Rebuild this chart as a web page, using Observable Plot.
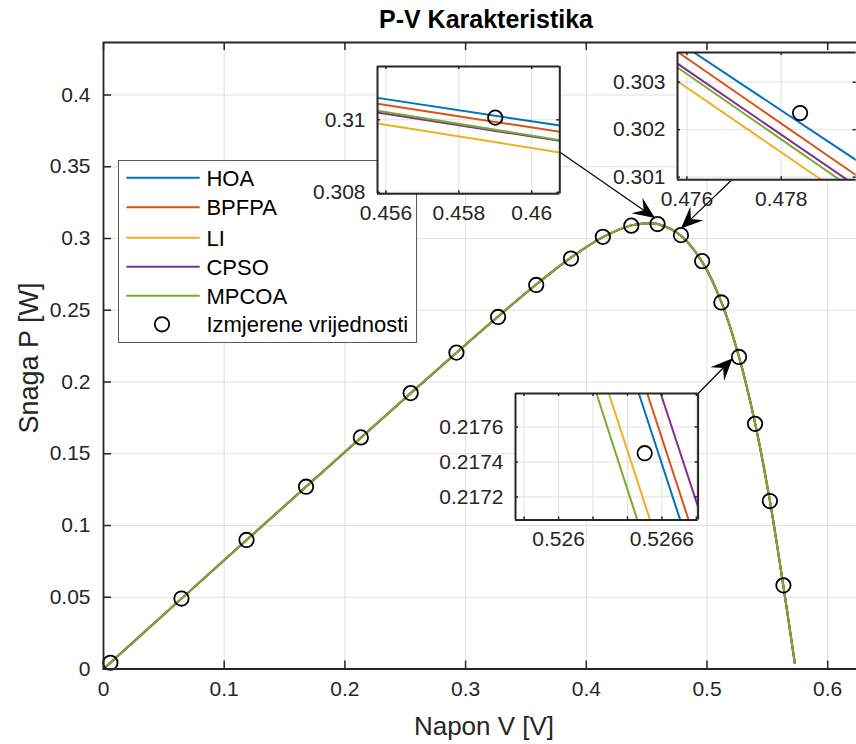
<!DOCTYPE html>
<html><head><meta charset="utf-8">
<script src="https://cdn.jsdelivr.net/npm/d3@7"></script>
<script src="https://cdn.jsdelivr.net/npm/@observablehq/plot@0.6"></script>
<style>
html,body{margin:0;padding:0;background:#fff;overflow:hidden;}
#fig{position:relative;width:856px;height:744px;overflow:hidden;font-family:"Liberation Sans",Arial,sans-serif;color:#262626;}
.abs{position:absolute;white-space:nowrap;line-height:1;}
</style></head><body><div id="fig"></div>
<script>
// ---------- data ----------
const seriesNames = ["HOA", "BPFPA", "LI", "CPSO", "MPCOA"];
const seriesColors = ["#0072BD", "#D95319", "#EDB120", "#7E2F8E", "#77AC30"];
const measLabel = "Izmjerene vrijednosti";

// measured points (circles)
const measV = [0.0057, 0.0646, 0.1185, 0.1678, 0.2132, 0.2545, 0.2924, 0.3269, 0.3585, 0.3873,
               0.4137, 0.4373, 0.4590, 0.4784, 0.4960, 0.5119, 0.5265, 0.5398, 0.5521, 0.5633];
const measP = [0.00434, 0.04910, 0.08994, 0.12703, 0.16139, 0.19228, 0.22047, 0.24534, 0.26762, 0.28602,
               0.30117, 0.30895, 0.31006, 0.30235, 0.28421, 0.25544, 0.21745, 0.17085, 0.11705, 0.05830];

// model curves on the main axes (all five overlap at this scale)
const curveV = [0, 0.0057, 0.0646, 0.1185, 0.1678, 0.2132, 0.2545, 0.2924, 0.3269, 0.3585, 0.3873,
                0.4137, 0.4373, 0.4480, 0.4590, 0.4784, 0.4960, 0.5119, 0.5265, 0.5398, 0.5521, 0.5633, 0.5727];
const curveP = [0, 0.00433, 0.04904, 0.08983, 0.12704, 0.16121, 0.19217, 0.22037, 0.24563, 0.26793, 0.28665,
                0.30092, 0.30916, 0.31050, 0.31005, 0.30193, 0.28370, 0.25572, 0.21760, 0.17139, 0.11713, 0.05760, 0.0042];

// inset 1 (near 0.458 V)
const in1V = [0.45577, 0.46077];
const in1P = {
  HOA:   [0.310605, 0.309843],
  BPFPA: [0.310440, 0.309670],
  LI:    [0.309900, 0.309100],
  CPSO:  [0.310200, 0.309420],
  MPCOA: [0.310248, 0.309440]
};
// inset 2 (near 0.478 V): each series as two read points
const in2V = {
  HOA:   [0.47615, 0.47959],
  BPFPA: [0.47582, 0.47959],
  LI:    [0.47580, 0.47885],
  CPSO:  [0.47580, 0.47940],
  MPCOA: [0.47580, 0.47924]
};
const in2P = {
  HOA:   [0.303625, 0.30136],
  BPFPA: [0.303625, 0.30104],
  LI:    [0.30302, 0.300945],
  CPSO:  [0.30339, 0.300945],
  MPCOA: [0.30331, 0.300945]
};
// inset 3 (near 0.5265 V)
const in3V = {
  HOA:   [0.526466, 0.526706],
  BPFPA: [0.526515, 0.526755],
  LI:    [0.526292, 0.526531],
  CPSO:  [0.526593, 0.526810],
  MPCOA: [0.526220, 0.526457]
};
const in3P = {
  HOA:   [0.217791, 0.217069],
  BPFPA: [0.217791, 0.217069],
  LI:    [0.217791, 0.217069],
  CPSO:  [0.217791, 0.217143],
  MPCOA: [0.217791, 0.217069]
};

// ticks
const xTicks = [0, 0.1, 0.2, 0.3, 0.4, 0.5, 0.6];
const xTickLabels = ["0", "0.1", "0.2", "0.3", "0.4", "0.5", "0.6"];
const yTicks = [0, 0.05, 0.1, 0.15, 0.2, 0.25, 0.3, 0.35, 0.4];
const yTickLabels = ["0", "0.05", "0.1", "0.15", "0.2", "0.25", "0.3", "0.35", "0.4"];
const in1XTicks = [0.456, 0.458, 0.46], in1XLabels = ["0.456", "0.458", "0.46"];
const in1YTicks = [0.308, 0.31], in1YLabels = ["0.308", "0.31"];
const in2XTicks = [0.476, 0.478], in2XLabels = ["0.476", "0.478"];
const in2YTicks = [0.301, 0.302, 0.303], in2YLabels = ["0.301", "0.302", "0.303"];
const in3XTicks = [0.5258, 0.526, 0.5262, 0.5264, 0.5266, 0.5268], in3XLabels = ["", "0.526", "", "", "0.5266", ""];
const in3YTicks = [0.2172, 0.2174, 0.2176], in3YLabels = ["0.2172", "0.2174", "0.2176"];

// annotation arrows (main-axes coordinates: start -> tip)
const arrowFromV = [0.37804, 0.52088, 0.49188];
const arrowFromP = [0.36014, 0.34042, 0.19059];
const arrowToV   = [0.45733, 0.47888, 0.52171];
const arrowToP   = [0.31394, 0.30662, 0.21617];

const titleText = "P-V Karakteristika";
const xLabelText = "Napon V [V]";
const yLabelText = "Snaga P [W]";

// ---------- style ----------
const AX = "#262626", GRID = "#dfdfdf", FONT = '"Liberation Sans", Arial, sans-serif';
const fig = document.getElementById("fig");

function place(node, left, top) {
  node.style.position = "absolute";
  node.style.left = left + "px";
  node.style.top = top + "px";
  fig.appendChild(node);
}

// ---------- main plot ----------
const mL = 103, mT = 42, mB = 75.5, W = 856, H = 744;
const pw = W - mL, ph = H - mT - mB;
const pts = curveV.map((v, i) => [v, curveP[i]]);
const meas = measV.map((v, i) => [v, measP[i]]);

function arrowsMark(index, scales) {
  const g = d3.create("svg:g");
  const L = 22, Wd = 19, notch = 0.62;
  for (let i = 0; i < arrowFromV.length; i++) {
    const x1 = scales.x(arrowFromV[i]), y1 = scales.y(arrowFromP[i]);
    const x2 = scales.x(arrowToV[i]), y2 = scales.y(arrowToP[i]);
    const a = Math.atan2(y2 - y1, x2 - x1), c = Math.cos(a), s = Math.sin(a);
    const P = (u, v) => [x2 + u * c - v * s, y2 + u * s + v * c];
    const nb = P(-L * notch, 0);
    g.append("line").attr("x1", x1).attr("y1", y1).attr("x2", nb[0]).attr("y2", nb[1])
      .attr("stroke", "#000").attr("stroke-width", 1.2);
    const poly = [P(0, 0), P(-L, -Wd / 2), nb, P(-L, Wd / 2)];
    g.append("path").attr("d", "M" + poly.map(p => p.join(",")).join("L") + "Z").attr("fill", "#000");
  }
  return g.node();
}

const mainMarks = [
  Plot.ruleX(xTicks, {x: d => d, stroke: GRID, strokeWidth: 1}),
  Plot.ruleY(yTicks, {y: d => d, stroke: GRID, strokeWidth: 1}),
  ...seriesNames.map((n, k) => Plot.line(pts, {x: d => d[0], y: d => d[1], stroke: seriesColors[k], strokeWidth: 2, curve: "catmull-rom"})),
  Plot.dot(meas, {x: d => d[0], y: d => d[1], r: 7.2, stroke: "#000", strokeWidth: 1.8, fill: "none"}),
  Plot.tickX(xTicks, {x: d => d, insetTop: ph - 8, stroke: AX, strokeWidth: 1.5}),
  Plot.tickX(xTicks, {x: d => d, insetBottom: ph - 8, stroke: AX, strokeWidth: 1.5}),
  Plot.tickY(yTicks, {y: d => d, insetRight: pw - 8, stroke: AX, strokeWidth: 1.5}),
  Plot.ruleY([0], {stroke: AX, strokeWidth: 1.8}),
  Plot.ruleY([0.43659], {stroke: AX, strokeWidth: 1.8}),
  Plot.ruleX([0], {stroke: AX, strokeWidth: 1.8}),
  Plot.text(xTicks, {x: d => d, text: (d, i) => xTickLabels[i], frameAnchor: "bottom", dy: 26.5, fill: AX}),
  Plot.text(yTicks, {y: d => d, text: (d, i) => yTickLabels[i], frameAnchor: "left", textAnchor: "end", dx: -13, fill: AX}),
  arrowsMark
];

const mainPlot = Plot.plot({
  width: W, height: H, marginLeft: mL, marginRight: 0, marginTop: mT, marginBottom: mB,
  x: {domain: [0, 0.62386], axis: null},
  y: {domain: [0, 0.43659], axis: null},
  style: {fontFamily: FONT, fontSize: "21px", background: "transparent", maxWidth: "none", overflow: "visible"},
  marks: mainMarks
});
place(mainPlot, 0, 0);

// ---------- title & axis labels ----------
function label(text, css) {
  const d = document.createElement("div");
  d.className = "abs";
  d.textContent = text;
  Object.assign(d.style, css);
  fig.appendChild(d);
}
label(titleText, {left: "486px", top: "7px", transform: "translateX(-50%)", fontWeight: "bold", fontSize: "25px", color: "#000"});
label(xLabelText, {left: "484px", top: "713px", transform: "translateX(-50%)", fontSize: "26px"});
label(yLabelText, {left: "29px", top: "358px", transform: "translate(-50%,-50%) rotate(-90deg)", fontSize: "27px"});

// ---------- legend ----------
(function legend() {
  const lw = 299, lh = 183, rows = [17.7, 47.3, 77.7, 106.7, 135.7, 164.3];
  const svg = d3.create("svg").attr("width", lw).attr("height", lh)
    .style("font-family", FONT).style("font-size", "22px");
  svg.append("rect").attr("x", 0.5).attr("y", 0.5).attr("width", lw - 1).attr("height", lh - 1)
    .attr("fill", "#fff").attr("stroke", "#5a5a5a").attr("stroke-width", 1);
  seriesNames.forEach((n, k) => {
    svg.append("line").attr("x1", 8.4).attr("x2", 81.7).attr("y1", rows[k]).attr("y2", rows[k])
      .attr("stroke", seriesColors[k]).attr("stroke-width", 2);
    svg.append("text").attr("x", 88.4).attr("y", rows[k] + 7.8).attr("fill", "#000").text(n);
  });
  svg.append("circle").attr("cx", 44).attr("cy", rows[5]).attr("r", 7.2).attr("fill", "none")
    .attr("stroke", "#000").attr("stroke-width", 1.8);
  svg.append("text").attr("x", 88.4).attr("y", rows[5] + 7.8).attr("fill", "#000").text(measLabel);
  place(svg.node(), 118.3, 160);
})();

// ---------- insets ----------
function inset(o) {
  const {frame, xDomain, yDomain, xTicks, xLabels, yTicks, yLabels, lines, mLeft, drawRight, tick} = o;
  const mR = drawRight ? 5 : 0, mTop = 5, mBot = 45;
  const iw = frame[2] - frame[0], ih = frame[3] - frame[1];
  const marks = [
    Plot.frame({fill: "white"}),
    Plot.ruleX(xTicks, {x: d => d, stroke: GRID, strokeWidth: 1}),
    Plot.ruleY(yTicks, {y: d => d, stroke: GRID, strokeWidth: 1}),
    ...lines.map(l => Plot.line(l.V.map((v, i) => [v, l.P[i]]), {x: d => d[0], y: d => d[1], stroke: l.color, strokeWidth: 2, clip: true})),
    Plot.dot(meas, {x: d => d[0], y: d => d[1], r: 7.2, stroke: "#000", strokeWidth: 1.8, fill: "none", clip: true}),
    Plot.tickX(xTicks, {x: d => d, insetTop: ih - tick, stroke: AX, strokeWidth: 1.5}),
    Plot.tickX(xTicks, {x: d => d, insetBottom: ih - tick, stroke: AX, strokeWidth: 1.5}),
    Plot.tickY(yTicks, {y: d => d, insetRight: iw - tick, stroke: AX, strokeWidth: 1.5}),
    Plot.tickY(yTicks, {y: d => d, insetLeft: iw - tick, stroke: AX, strokeWidth: 1.5}),
    Plot.ruleX([xDomain[0]], {stroke: AX, strokeWidth: 2}),
    Plot.ruleY([yDomain[0]], {stroke: AX, strokeWidth: 2}),
    Plot.ruleY([yDomain[1]], {stroke: AX, strokeWidth: 2}),
    Plot.text(xTicks, {x: d => d, text: (d, i) => xLabels[i], frameAnchor: "bottom", dy: 26.5, fill: AX}),
    Plot.text(yTicks, {y: d => d, text: (d, i) => yLabels[i], frameAnchor: "left", textAnchor: "end", dx: -12, fill: AX})
  ];
  if (drawRight) marks.push(Plot.ruleX([xDomain[1]], {stroke: AX, strokeWidth: 2}));
  const p = Plot.plot({
    width: mLeft + iw + mR, height: mTop + ih + mBot,
    marginLeft: mLeft, marginRight: mR, marginTop: mTop, marginBottom: mBot,
    x: {domain: xDomain, axis: null},
    y: {domain: yDomain, axis: null},
    style: {fontFamily: FONT, fontSize: "21px", background: "transparent", maxWidth: "none", overflow: "visible"},
    marks
  });
  place(p, frame[0] - mLeft, frame[1] - mTop);
}

inset({
  frame: [376.7, 65.7, 559, 193], xDomain: [0.45577, 0.46077], yDomain: [0.30796, 0.31147],
  xTicks: in1XTicks, xLabels: in1XLabels, yTicks: in1YTicks, yLabels: in1YLabels,
  lines: seriesNames.map((n, k) => ({V: in1V, P: in1P[n], color: seriesColors[k]})),
  mLeft: 70, drawRight: true, tick: 3
});
inset({
  frame: [677.3, 52, 856, 179.3], xDomain: [0.4758, 0.47959], yDomain: [0.300945, 0.303625],
  xTicks: in2XTicks, xLabels: in2XLabels, yTicks: in2YTicks, yLabels: in2YLabels,
  lines: seriesNames.map((n, k) => ({V: in2V[n], P: in2P[n], color: seriesColors[k]})),
  mLeft: 70, drawRight: false, tick: 3
});
inset({
  frame: [514.7, 393.3, 697.3, 519.7], xDomain: [0.52575, 0.52681], yDomain: [0.217069, 0.217791],
  xTicks: in3XTicks, xLabels: in3XLabels, yTicks: in3YTicks, yLabels: in3YLabels,
  lines: seriesNames.map((n, k) => ({V: in3V[n], P: in3P[n], color: seriesColors[k]})),
  mLeft: 80, drawRight: true, tick: 3
});
</script></body></html>
